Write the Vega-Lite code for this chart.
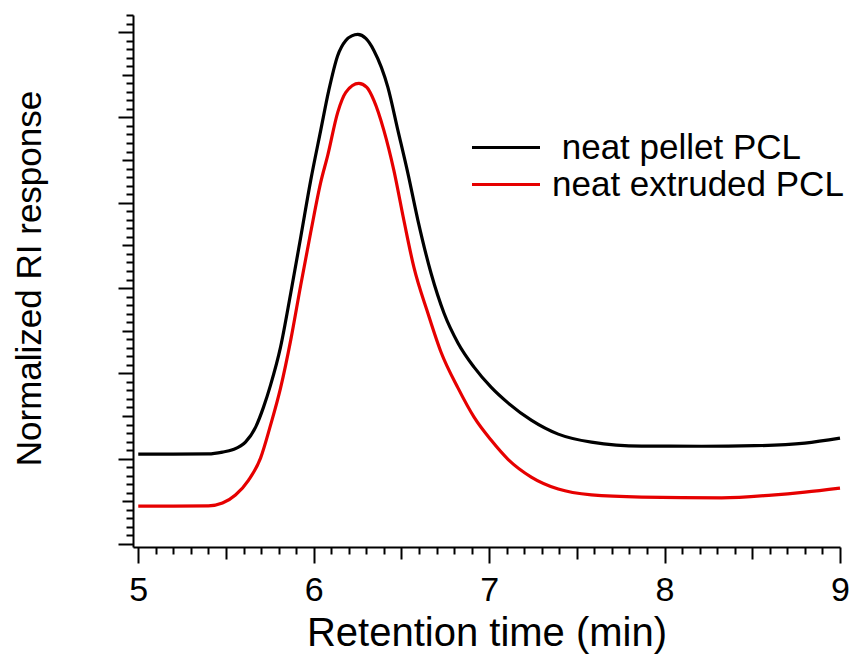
{
  "$schema": "https://vega.github.io/schema/vega-lite/v6.json",
  "autosize": "none",
  "width": 707,
  "height": 532,
  "padding": {"left": 133, "top": 15, "right": 15, "bottom": 117},
  "background": "white",
  "config": {
    "view": {"stroke": null},
    "font": "Liberation Sans",
    "axis": {"grid": false, "domainColor": "black", "domainWidth": 2, "tickColor": "black", "tickWidth": 2, "labelColor": "black", "titleColor": "black", "titleFontWeight": "normal", "labelFont": "Liberation Sans", "titleFont": "Liberation Sans"}
  },
  "data": {
    "values": [
      {"t": 5.0, "v": 1.054, "s": "neat pellet PCL"},
      {"t": 5.2, "v": 1.054, "s": "neat pellet PCL"},
      {"t": 5.4, "v": 1.056, "s": "neat pellet PCL"},
      {"t": 5.48, "v": 1.077, "s": "neat pellet PCL"},
      {"t": 5.537, "v": 1.105, "s": "neat pellet PCL"},
      {"t": 5.611, "v": 1.194, "s": "neat pellet PCL"},
      {"t": 5.669, "v": 1.37, "s": "neat pellet PCL"},
      {"t": 5.714, "v": 1.604, "s": "neat pellet PCL"},
      {"t": 5.754, "v": 1.862, "s": "neat pellet PCL"},
      {"t": 5.811, "v": 2.307, "s": "neat pellet PCL"},
      {"t": 5.869, "v": 2.939, "s": "neat pellet PCL"},
      {"t": 5.926, "v": 3.595, "s": "neat pellet PCL"},
      {"t": 5.983, "v": 4.262, "s": "neat pellet PCL"},
      {"t": 6.04, "v": 4.848, "s": "neat pellet PCL"},
      {"t": 6.086, "v": 5.316, "s": "neat pellet PCL"},
      {"t": 6.137, "v": 5.726, "s": "neat pellet PCL"},
      {"t": 6.183, "v": 5.902, "s": "neat pellet PCL"},
      {"t": 6.217, "v": 5.955, "s": "neat pellet PCL"},
      {"t": 6.251, "v": 5.972, "s": "neat pellet PCL"},
      {"t": 6.297, "v": 5.925, "s": "neat pellet PCL"},
      {"t": 6.343, "v": 5.785, "s": "neat pellet PCL"},
      {"t": 6.423, "v": 5.351, "s": "neat pellet PCL"},
      {"t": 6.48, "v": 4.848, "s": "neat pellet PCL"},
      {"t": 6.537, "v": 4.344, "s": "neat pellet PCL"},
      {"t": 6.594, "v": 3.794, "s": "neat pellet PCL"},
      {"t": 6.669, "v": 3.173, "s": "neat pellet PCL"},
      {"t": 6.743, "v": 2.705, "s": "neat pellet PCL"},
      {"t": 6.823, "v": 2.354, "s": "neat pellet PCL"},
      {"t": 6.914, "v": 2.073, "s": "neat pellet PCL"},
      {"t": 7.011, "v": 1.838, "s": "neat pellet PCL"},
      {"t": 7.109, "v": 1.651, "s": "neat pellet PCL"},
      {"t": 7.24, "v": 1.452, "s": "neat pellet PCL"},
      {"t": 7.394, "v": 1.288, "s": "neat pellet PCL"},
      {"t": 7.583, "v": 1.194, "s": "neat pellet PCL"},
      {"t": 7.869, "v": 1.147, "s": "neat pellet PCL"},
      {"t": 8.211, "v": 1.146, "s": "neat pellet PCL"},
      {"t": 8.514, "v": 1.152, "s": "neat pellet PCL"},
      {"t": 8.8, "v": 1.183, "s": "neat pellet PCL"},
      {"t": 9.0, "v": 1.241, "s": "neat pellet PCL"},
      {"t": 5.0, "v": 0.445, "s": "neat extruded PCL"},
      {"t": 5.2, "v": 0.445, "s": "neat extruded PCL"},
      {"t": 5.4, "v": 0.447, "s": "neat extruded PCL"},
      {"t": 5.48, "v": 0.48, "s": "neat extruded PCL"},
      {"t": 5.554, "v": 0.574, "s": "neat extruded PCL"},
      {"t": 5.629, "v": 0.749, "s": "neat extruded PCL"},
      {"t": 5.697, "v": 1.007, "s": "neat extruded PCL"},
      {"t": 5.754, "v": 1.393, "s": "neat extruded PCL"},
      {"t": 5.811, "v": 1.827, "s": "neat extruded PCL"},
      {"t": 5.869, "v": 2.389, "s": "neat extruded PCL"},
      {"t": 5.926, "v": 3.033, "s": "neat extruded PCL"},
      {"t": 5.983, "v": 3.653, "s": "neat extruded PCL"},
      {"t": 6.04, "v": 4.239, "s": "neat extruded PCL"},
      {"t": 6.08, "v": 4.555, "s": "neat extruded PCL"},
      {"t": 6.137, "v": 5.059, "s": "neat extruded PCL"},
      {"t": 6.183, "v": 5.293, "s": "neat extruded PCL"},
      {"t": 6.257, "v": 5.398, "s": "neat extruded PCL"},
      {"t": 6.303, "v": 5.351, "s": "neat extruded PCL"},
      {"t": 6.343, "v": 5.199, "s": "neat extruded PCL"},
      {"t": 6.4, "v": 4.848, "s": "neat extruded PCL"},
      {"t": 6.457, "v": 4.379, "s": "neat extruded PCL"},
      {"t": 6.514, "v": 3.794, "s": "neat extruded PCL"},
      {"t": 6.571, "v": 3.244, "s": "neat extruded PCL"},
      {"t": 6.651, "v": 2.705, "s": "neat extruded PCL"},
      {"t": 6.726, "v": 2.248, "s": "neat extruded PCL"},
      {"t": 6.823, "v": 1.827, "s": "neat extruded PCL"},
      {"t": 6.914, "v": 1.487, "s": "neat extruded PCL"},
      {"t": 7.011, "v": 1.218, "s": "neat extruded PCL"},
      {"t": 7.109, "v": 0.99, "s": "neat extruded PCL"},
      {"t": 7.24, "v": 0.785, "s": "neat extruded PCL"},
      {"t": 7.394, "v": 0.644, "s": "neat extruded PCL"},
      {"t": 7.583, "v": 0.576, "s": "neat extruded PCL"},
      {"t": 7.869, "v": 0.55, "s": "neat extruded PCL"},
      {"t": 8.326, "v": 0.541, "s": "neat extruded PCL"},
      {"t": 8.611, "v": 0.574, "s": "neat extruded PCL"},
      {"t": 8.8, "v": 0.609, "s": "neat extruded PCL"},
      {"t": 9.0, "v": 0.656, "s": "neat extruded PCL"}
    ]
  },
  "mark": {"type": "line", "strokeWidth": 3.2, "interpolate": "monotone"},
  "encoding": {
    "x": {
      "field": "t", "type": "quantitative",
      "scale": {"domain": [4.97, 9], "nice": false, "zero": false},
      "axis": {
        "title": "Retention time (min)",
        "titleFontSize": 40,
        "titlePadding": 6,
        "labelFontSize": 34,
        "labelPadding": 10,
        "labelOverlap": false,
        "labelFlush": false,
        "tickSize": {
          "condition": [
            {"test": "abs(datum.value - round(datum.value)) < 0.01", "value": 16},
            {"test": "abs(datum.value*2 - round(datum.value*2)) < 0.01", "value": 12}
          ],
          "value": 7
        },
        "values": [5,5.1,5.2,5.3,5.4,5.5,5.6,5.7,5.8,5.9,6,6.1,6.2,6.3,6.4,6.5,6.6,6.7,6.8,6.9,7,7.1,7.2,7.3,7.4,7.5,7.6,7.7,7.8,7.9,8,8.1,8.2,8.3,8.4,8.5,8.6,8.7,8.8,8.9,9],
        "labelExpr": "abs(datum.value - round(datum.value)) < 0.01 ? format(datum.value, 'd') : ''"
      }
    },
    "y": {
      "field": "v", "type": "quantitative",
      "scale": {"domain": [-0.035, 6.2], "nice": false, "zero": false},
      "axis": {
        "title": "Normalized RI response",
        "titleFontSize": 35,
        "titlePadding": 70,
        "titleY": 263,
        "labels": false,
        "tickSize": {
          "condition": [
            {"test": "abs(datum.value - round(datum.value)) < 0.01", "value": 15},
            {"test": "abs(datum.value*2 - round(datum.value*2)) < 0.01", "value": 11}
          ],
          "value": 7
        },
        "values": [0,0.1,0.2,0.3,0.4,0.5,0.6,0.7,0.8,0.9,1,1.1,1.2,1.3,1.4,1.5,1.6,1.7,1.8,1.9,2,2.1,2.2,2.3,2.4,2.5,2.6,2.7,2.8,2.9,3,3.1,3.2,3.3,3.4,3.5,3.6,3.7,3.8,3.9,4,4.1,4.2,4.3,4.4,4.5,4.6,4.7,4.8,4.9,5,5.1,5.2,5.3,5.4,5.5,5.6,5.7,5.8,5.9,6,6.1,6.2]
      }
    },
    "color": {
      "field": "s", "type": "nominal",
      "scale": {"domain": ["neat pellet PCL", "neat extruded PCL"], "range": ["#000000", "#e60000"]},
      "legend": {
        "title": null,
        "orient": "none",
        "legendX": 337,
        "legendY": 114,
        "padding": 0,
        "symbolType": "stroke",
        "symbolSize": 4624,
        "symbolStrokeWidth": 3.2,
        "clipHeight": 37,
        "rowPadding": 0,
        "labelOffset": 10,
        "labelFontSize": 35,
        "labelColor": "black",
        "labelFont": "Liberation Sans",
        "labelLimit": 500,
        "labelExpr": "(datum.value == 'neat pellet PCL' ? '\u200b ' : '') + datum.label"
      }
    }
  }
}
